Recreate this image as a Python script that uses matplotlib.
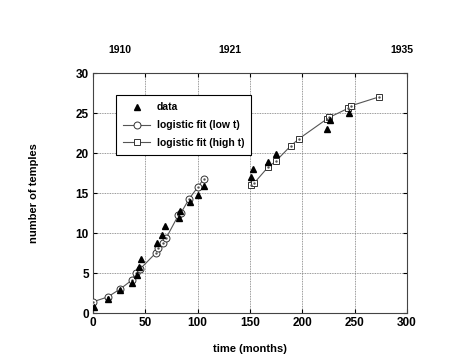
import matplotlib
matplotlib.use("Agg")
import matplotlib.pyplot as plt
from matplotlib.lines import Line2D

plt.rcParams["font.family"] = ["Liberation Sans", "DejaVu Sans"]
plt.rcParams["font.weight"] = "bold"

# observed temple counts
data_t = [1, 14, 26, 37, 42, 43.5, 46, 61.5, 65.5, 69, 82, 83.5, 92.5, 100.5, 106,
          151, 153, 167, 174.5, 224, 226, 244.5]
data_n = [0.8, 1.7, 2.9, 3.8, 4.8, 5.7, 6.75, 8.8, 9.8, 10.9, 11.9, 12.8, 13.9, 14.8, 15.9,
          17.0, 18.0, 18.9, 19.9, 23.0, 24.1, 25.0]

# logistic fit, low t
low_t = [0, 14, 26, 37, 41, 45, 60, 62, 66.5, 70, 81.5, 84, 92, 100.5, 106]
low_n = [1.4, 2.0, 3.0, 4.1, 5.0, 5.5, 7.5, 8.1, 8.8, 9.4, 12.2, 12.5, 14.3, 15.8, 16.8]

# logistic fit, high t
high_t = [151, 153.7, 167, 174.8, 189, 197, 224, 225.7, 244, 246.5, 273]
high_n = [16.0, 16.2, 18.2, 19.0, 20.9, 21.8, 24.3, 24.45, 25.6, 25.9, 27.0]

year_labels = ["1910", "1921", "1935"]
year_pos = [0.086, 0.436, 0.984]

fig = plt.figure(figsize=(4.69, 3.63), dpi=100)
ax = fig.add_axes([93 / 469, 50 / 363, 314 / 469, 240 / 363])

lc = "#555555"
ax.plot(low_t, low_n, "-", color=lc, lw=0.8, zorder=2)
ax.plot(low_t, low_n, "o", ms=5, mfc="white", mec="#333333", mew=0.7, zorder=3)
ax.plot(low_t, low_n, ".", ms=1.5, color="#555555", zorder=4)
ax.plot(high_t, high_n, "-", color=lc, lw=0.8, zorder=2)
ax.plot(high_t, high_n, "s", ms=5, mfc="white", mec="#333333", mew=0.7, zorder=3)
ax.plot(high_t, high_n, ".", ms=1.5, color="#555555", zorder=4)
ax.plot(data_t, data_n, "^", ms=5, color="black", lw=0, zorder=5)

ax.set_xlim(0, 300)
ax.set_ylim(0, 30)
ax.set_xticks(range(0, 301, 50))
ax.set_yticks(range(0, 31, 5))
ax.grid(True, color="#777777", ls=(0, (1, 1)), lw=0.6)
ax.tick_params(direction="in", top=True, right=True, labelsize=8.5, length=3,
               width=0.8, pad=3)
for s in ax.spines.values():
    s.set_linewidth(0.8)
    s.set_color("#444444")

ax.set_xlabel("time (months)", fontsize=8, fontweight="bold", labelpad=11)
ax.set_ylabel("number of temples", fontsize=8, fontweight="bold", labelpad=26)

for lab, p in zip(year_labels, year_pos):
    ax.text(p, 1.095, lab, transform=ax.transAxes, ha="center", va="center",
            fontsize=7.5, fontweight="bold")

handles = [
    Line2D([], [], ls="none", marker="^", ms=5, color="black"),
    Line2D([], [], color=lc, lw=0.8, marker="o", ms=5, mfc="white", mec="#333333", mew=0.7),
    Line2D([], [], color=lc, lw=0.8, marker="s", ms=5, mfc="white", mec="#333333", mew=0.7),
]
leg = ax.legend(handles, ["data", "logistic fit (low t)", "logistic fit (high t)"],
                loc="upper left", bbox_to_anchor=(0.073, 0.908), borderaxespad=0,
                fontsize=7.5, frameon=True, fancybox=False, edgecolor="black",
                framealpha=1, handlelength=2.6, handletextpad=0.6,
                borderpad=0.7, labelspacing=0.75)
leg.get_frame().set_linewidth(0.8)

fig.savefig("out.png", dpi=100)
